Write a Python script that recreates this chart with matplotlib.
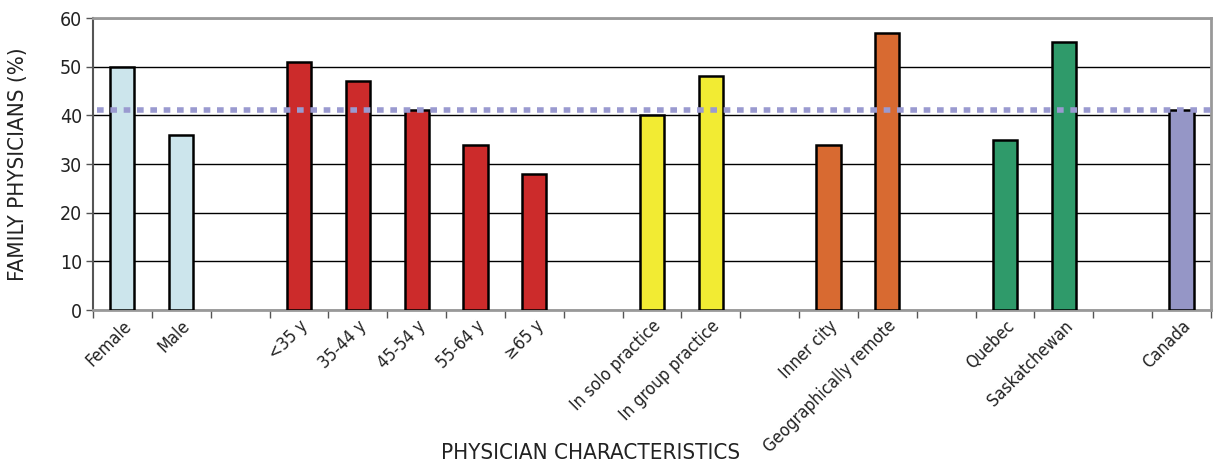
import matplotlib.pyplot as plt
import numpy as np
from matplotlib import font_manager

# look for a narrow / condensed face, the reference uses a condensed sans
font_name, font_stretch = 'DejaVu Sans', 'normal'
for f in font_manager.fontManager.ttflist:
    fn = f.fname.lower()
    if ('condensed' in fn or 'narrow' in fn) and 'bold' not in fn and 'oblique' not in fn \
            and 'italic' not in fn:
        font_name, font_stretch = f.name, f.stretch
        if 'dejavu' in fn or 'liberation' in fn:
            break
plt.rcParams['font.family'] = [font_name, 'DejaVu Sans']
plt.rcParams['font.stretch'] = font_stretch

categories = ['Female', 'Male', '<35 y', '35-44 y', '45-54 y', '55-64 y', '\u226565 y',
              'In solo practice', 'In group practice', 'Inner city', 'Geographically remote',
              'Quebec', 'Saskatchewan', 'Canada']
values = [50, 36, 51, 47, 41, 34, 28, 40, 48, 34, 57, 35, 55, 41]
groups = [0, 0, 1, 1, 1, 1, 1, 2, 2, 3, 3, 4, 4, 5]
group_colors = ['#CCE5EC', '#CC2B2B', '#F2EB33', '#D86A31', '#2F9A6A', '#9596C6']
canada_avg = 41

# slot positions: one empty slot between groups
pos = []
slot = 0
for i, g in enumerate(groups):
    if i > 0 and g != groups[i - 1]:
        slot += 1
    pos.append(slot)
    slot += 1
nslots = slot
pos = np.array(pos) + 0.5

fig = plt.figure(figsize=(12.14, 4.68), dpi=100)
ax = fig.add_axes([0.0766, 0.3376, 0.9209, 0.6239])

ax.bar(pos, values, width=0.41, color=[group_colors[g] for g in groups],
       edgecolor='black', linewidth=1.8, zorder=3)
ax.axhline(canada_avg, xmin=0.004, xmax=1, color='#9A9AD0', linewidth=4,
           linestyle=(0, (1.2, 1.2)), zorder=4)

ax.set_ylim(0, 60)
ax.set_xlim(0, nslots)
ax.set_yticks(range(0, 61, 10))
ax.yaxis.grid(True, color='black', linewidth=1)
ax.set_axisbelow(True)
ax.set_xticks(np.arange(0, nslots + 1), minor=False)
ax.set_xticklabels([])
ax.set_xticks(pos, minor=True)
ax.set_xticklabels(categories, minor=True, rotation=45, ha='right',
                   rotation_mode='anchor', fontsize=12.5, color='#222222')
ax.tick_params(axis='x', which='minor', length=0, pad=5)
ax.tick_params(axis='x', which='major', length=6, width=1, color='#555555', direction='out')
ax.tick_params(axis='y', length=5, width=1, color='#555555', labelsize=14, pad=3,
               labelcolor='#222222')

for side in ['top', 'right', 'bottom']:
    ax.spines[side].set_color('#999999')
    ax.spines[side].set_linewidth(2)
ax.spines['left'].set_color('#555555')
ax.spines['left'].set_linewidth(1.5)

ax.set_ylabel('FAMILY PHYSICIANS (%)', fontsize=16, color='#222222')
ax.yaxis.set_label_coords(-0.058, 0.5)
ax.set_xlabel('PHYSICIAN CHARACTERISTICS', fontsize=16, color='#222222')
ax.xaxis.set_label_coords(0.445, -0.455)

fig.savefig('out.png', dpi=100)
